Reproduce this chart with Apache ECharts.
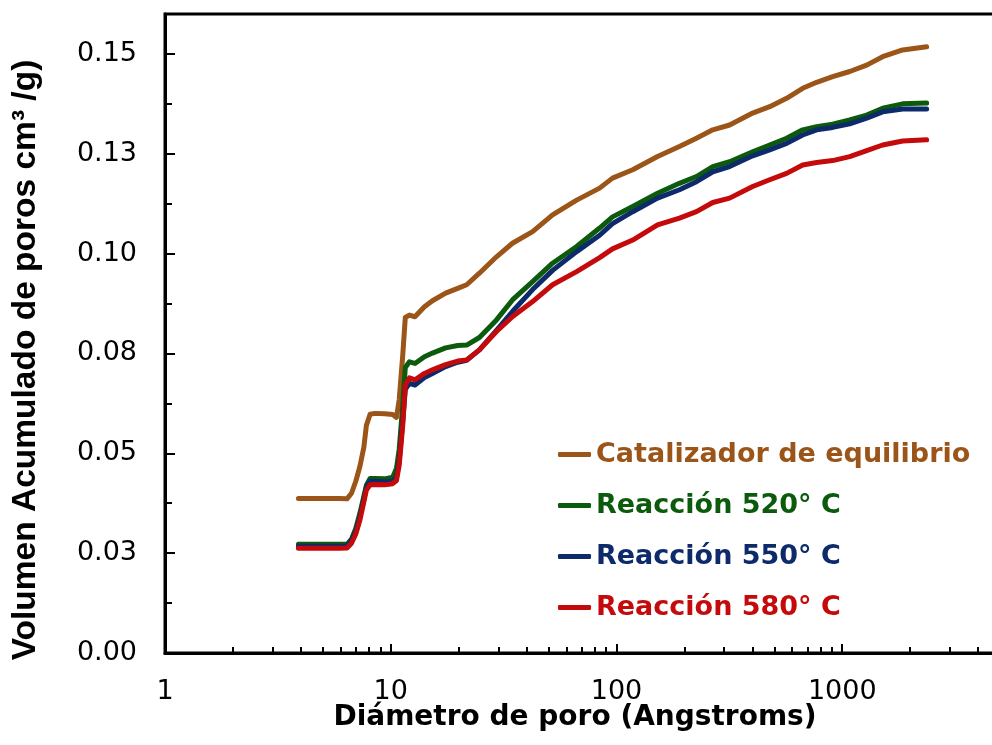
<!DOCTYPE html>
<html>
<head>
<meta charset="utf-8">
<script src="https://cdn.jsdelivr.net/npm/echarts@6/dist/echarts.min.js"></script>
<style>html,body{margin:0;padding:0;background:#fff;overflow:hidden;width:992px;height:745px}#c{width:1070px;height:745px}</style>
</head>
<body>
<div id="c"></div>
<script>
// Pore diameter (Angstroms)
const diameters = [3.9, 4.8, 5.9, 6.4, 6.7, 7.0, 7.3, 7.6, 7.8, 8.1,
  8.5, 9.4, 10.2, 10.6, 10.9, 11.3, 11.6, 12.1, 12.8, 14.1,
  15.3, 17.5, 19.8, 21.7, 24.7, 29.4, 34.6, 42.5, 52.1, 66.6,
  84.2, 96, 118, 152, 190, 226, 267, 317, 401, 477,
  567, 668, 770, 907, 1079, 1283, 1510, 1852, 2365];
const catalizador = [0.0387, 0.0387, 0.0387, 0.0386, 0.0400, 0.0430, 0.0467, 0.0515, 0.0570, 0.0598,
  0.0600, 0.0599, 0.0597, 0.0590, 0.0634, 0.0745, 0.0840, 0.0846, 0.0842, 0.0867,
  0.0882, 0.0901, 0.0913, 0.0922, 0.0951, 0.0992, 0.1026, 0.1055, 0.1097, 0.1134,
  0.1164, 0.1189, 0.1210, 0.1243, 0.1268, 0.1289, 0.1310, 0.1322, 0.1352, 0.1368,
  0.1389, 0.1414, 0.1429, 0.1443, 0.1456, 0.1472, 0.1493, 0.1510, 0.1518];
const reaccion520 = [0.0272, 0.0272, 0.0272, 0.0272, 0.0285, 0.0312, 0.0350, 0.0392, 0.0420, 0.0437,
  0.0437, 0.0436, 0.0440, 0.0462, 0.0510, 0.0620, 0.0715, 0.0729, 0.0725, 0.0742,
  0.0751, 0.0764, 0.0770, 0.0771, 0.0790, 0.0834, 0.0884, 0.0930, 0.0976, 0.1018,
  0.1064, 0.1092, 0.1118, 0.1151, 0.1176, 0.1193, 0.1218, 0.1230, 0.1255, 0.1272,
  0.1289, 0.1310, 0.1318, 0.1324, 0.1335, 0.1347, 0.1364, 0.1375, 0.1377];
const reaccion550 = [0.0267, 0.0267, 0.0267, 0.0268, 0.0282, 0.0305, 0.0340, 0.0385, 0.0415, 0.0430,
  0.0430, 0.0428, 0.0430, 0.0440, 0.0480, 0.0580, 0.0660, 0.0675, 0.0671, 0.0690,
  0.0700, 0.0717, 0.0728, 0.0733, 0.0759, 0.0808, 0.0855, 0.0910, 0.0958, 0.1005,
  0.1046, 0.1075, 0.1105, 0.1139, 0.1160, 0.1180, 0.1205, 0.1218, 0.1245, 0.1260,
  0.1276, 0.1297, 0.1310, 0.1316, 0.1325, 0.1339, 0.1355, 0.1362, 0.1362];
const reaccion580 = [0.0262, 0.0262, 0.0262, 0.0263, 0.0275, 0.0298, 0.0333, 0.0378, 0.0408, 0.0421,
  0.0422, 0.0421, 0.0424, 0.0432, 0.0470, 0.0570, 0.0670, 0.0689, 0.0684, 0.0700,
  0.0709, 0.0722, 0.0731, 0.0734, 0.0759, 0.0805, 0.0842, 0.0880, 0.0922, 0.0955,
  0.0990, 0.1012, 0.1034, 0.1072, 0.1089, 0.1105, 0.1128, 0.1139, 0.1168, 0.1185,
  0.1201, 0.1222, 0.1228, 0.1233, 0.1243, 0.1258, 0.1272, 0.1282, 0.1285];

const seriesNames = ['Catalizador de equilibrio', 'Reacción 520° C', 'Reacción 550° C', 'Reacción 580° C'];
const seriesColors = ['#9C5518', '#0C5A0C', '#0D2A6B', '#C40A0A'];

// Tick labels
const yTickValues = [0, 0.025, 0.05, 0.075, 0.1, 0.125, 0.15];
const yTickLabels = ['0.00', '0.03', '0.05', '0.08', '0.10', '0.13', '0.15'];
const yMinorTicks = [0.0125, 0.0375, 0.0625, 0.0875, 0.1125, 0.1375];
const xTickValues = [1, 10, 100, 1000, 10000];
const xTickLabels = ['1', '10', '100', '1000', '10000'];
const xMinorTicks = [2, 3, 4, 5, 6, 7, 8, 9, 20, 30, 40, 50, 60, 70, 80, 90,
  200, 300, 400, 500, 600, 700, 800, 900, 2000, 3000, 4000, 5000, 6000, 7000, 8000, 9000];

const allData = [catalizador, reaccion520, reaccion550, reaccion580];

const chart = echarts.init(document.getElementById('c'), null, {renderer: 'canvas'});
const baseFont = 'DejaVu Sans';

chart.setOption({
  animation: false,
  backgroundColor: '#fff',
  grid: {left: 165, top: 14, right: 2, bottom: 92, outerBoundsMode: 'none', containLabel: false,
    show: true, borderColor: '#000', borderWidth: 3, backgroundColor: 'transparent'},
  legend: {
    orient: 'vertical', left: 558, top: 441, padding: 0, itemGap: 24,
    itemWidth: 33, itemHeight: 5, icon: 'roundRect',
    textStyle: {fontFamily: baseFont, fontWeight: 'bold', fontSize: 27},
    data: seriesNames.map((n, i) => ({name: n, icon: 'roundRect', itemStyle: {color: seriesColors[i]}, textStyle: {color: seriesColors[i]}}))
  },
  xAxis: [{
    type: 'log', logBase: 10, min: 1, max: 10000, position: 'bottom',
    axisLine: {show: true, lineStyle: {color: '#000', width: 3}},
    axisTick: {show: true, inside: true, length: 9, lineStyle: {color: '#000', width: 2}, customValues: xTickValues},
    axisLabel: {show: true, color: '#000', fontFamily: baseFont, fontSize: 27, margin: 25,
      customValues: xTickValues,
      formatter: v => { const i = xTickValues.findIndex(t => Math.abs(Math.log10(t) - Math.log10(v)) < 1e-6); return i >= 0 ? xTickLabels[i] : ''; }},
    splitLine: {show: false}, minorTick: {show: false}
  }, {
    type: 'log', logBase: 10, min: 1, max: 10000, position: 'bottom', gridIndex: 0,
    axisLine: {show: false},
    axisTick: {show: true, inside: true, length: 6, lineStyle: {color: '#000', width: 2}, customValues: xMinorTicks},
    axisLabel: {show: false}, splitLine: {show: false}
  }],
  yAxis: [{
    type: 'value', min: 0, max: 0.16, position: 'left',
    axisLine: {show: true, lineStyle: {color: '#000', width: 3}},
    axisTick: {show: true, inside: true, length: 10, lineStyle: {color: '#000', width: 2}, customValues: yTickValues},
    axisLabel: {show: true, color: '#000', fontFamily: baseFont, fontSize: 27, margin: 28,
      customValues: yTickValues,
      formatter: v => { const i = Math.round(v / 0.025); return (Math.abs(v - i * 0.025) < 1e-6 && yTickLabels[i]) ? yTickLabels[i] : ''; }},
    splitLine: {show: false}
  }, {
    type: 'value', min: 0, max: 0.16, position: 'left', gridIndex: 0,
    axisLine: {show: false},
    axisTick: {show: true, inside: true, length: 7, lineStyle: {color: '#000', width: 2}, customValues: yMinorTicks},
    axisLabel: {show: false}, splitLine: {show: false}
  }],
  graphic: [
    {type: 'text', x: 26, y: 360, rotation: Math.PI / 2,
      style: {text: 'Volumen Acumulado de poros cm³ /g)', font: 'bold 33.5px "Liberation Sans"', fill: '#000', align: 'center', verticalAlign: 'middle'}},
    {type: 'text', x: 575, y: 718,
      style: {text: 'Diámetro de poro (Angstroms)', font: 'bold 28px "DejaVu Sans"', fill: '#000', align: 'center', verticalAlign: 'middle'}}
  ],
  series: allData.map((vals, i) => ({
    name: seriesNames[i], type: 'line', xAxisIndex: 0, yAxisIndex: 0,
    data: diameters.map((d, j) => [d, vals[j]]),
    symbol: 'none', smooth: false,
    lineStyle: {color: seriesColors[i], width: 5, cap: 'round', join: 'round'},
    itemStyle: {color: seriesColors[i]}
  }))
});
</script>
</body>
</html>
